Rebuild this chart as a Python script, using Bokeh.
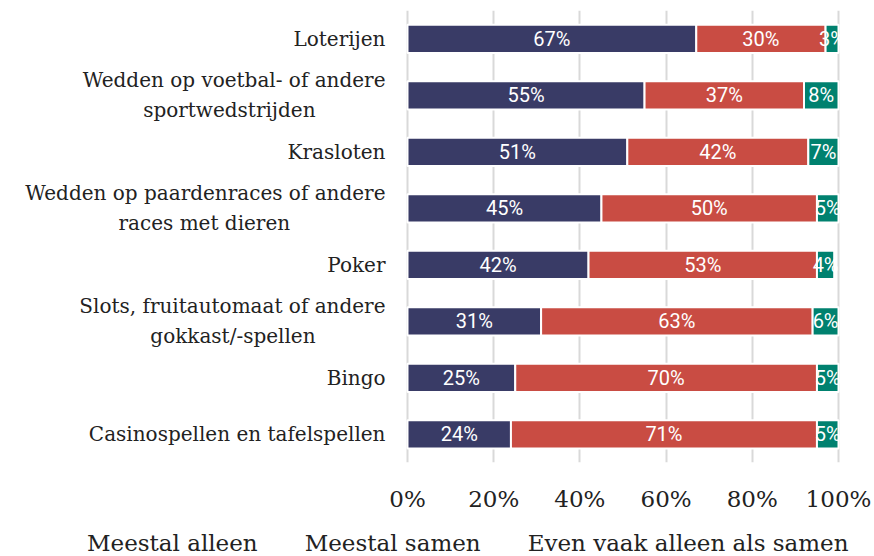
from bokeh.plotting import figure
from bokeh.layouts import column
from bokeh.models import ColumnDataSource, FactorRange, Range1d, Legend, LegendItem, PrintfTickFormatter, FixedTicker
from bokeh.core.properties import value
from bokeh.embed import file_html
from bokeh.resources import INLINE

NB = "\u00a0"
categories = [
    "Loterijen",
    "Wedden op voetbal- of andere\nsportwedstrijden" + NB * 11,
    "Krasloten",
    "Wedden op paardenraces of andere\nraces met dieren" + NB * 15,
    "Poker",
    "Slots, fruitautomaat of andere\ngokkast/-spellen" + NB * 11,
    "Bingo",
    "Casinospellen en tafelspellen",
]
alleen = [67, 55, 51, 45, 42, 31, 25, 24]
samen = [30, 37, 42, 50, 53, 63, 70, 71]
even = [3, 8, 7, 5, 4, 6, 5, 5]
series_names = ["Meestal alleen", "Meestal samen", "Even vaak alleen als samen"]
colors = ["#393b66", "#c94c43", "#00816f"]
x_ticks = [0, 20, 40, 60, 80, 100]

# frame spans the full width; 0% sits at 407px, 100% at 838px
PX_PER_UNIT = 4.31
p = figure(
    frame_width=874, frame_height=452,
    y_range=FactorRange(factors=list(reversed(categories)), range_padding=0),
    x_range=Range1d(-407 / PX_PER_UNIT, 467 / PX_PER_UNIT),
    output_backend="svg", toolbar_location=None,
    min_border_left=0, min_border_right=0, min_border_top=10, min_border_bottom=0,
)
p.outline_line_color = None
p.yaxis.visible = False

# category labels, right-aligned just left of the 0% line
lab_src = ColumnDataSource(dict(y=categories, x=[-22 / PX_PER_UNIT] * len(categories), t=categories))
p.text(x="x", y="y", text="t", source=lab_src, text_align="right", text_baseline="middle",
       text_font=value("DejaVu Serif"), text_font_size="20px", text_color="#222222",
       text_line_height=1.25)

series = [alleen, samen, even]
left = [0] * len(categories)
for name, vals, col in zip(series_names, series, colors):
    right = [l + v for l, v in zip(left, vals)]
    mid = [(l + r) / 2 for l, r in zip(left, right)]
    src = ColumnDataSource(dict(y=categories, left=left, right=right, mid=mid,
                                lab=[f"{v}%" for v in vals]))
    p.hbar(y="y", left="left", right="right", height=0.5, source=src,
           fill_color=col, line_color="white", line_width=2)
    p.text(x="mid", y="y", text="lab", source=src, text_align="center",
           text_baseline="middle", text_color="white", text_font_size="20px",
           text_font=value("Roboto"))
    left = right

p.xaxis.ticker = FixedTicker(ticks=x_ticks)
p.xaxis.formatter = PrintfTickFormatter(format="%d%%")
p.xaxis.axis_line_color = None
p.xaxis.major_tick_line_color = None
p.xaxis.minor_tick_line_color = None
p.xaxis.major_label_text_font = "DejaVu Serif"
p.xaxis.major_label_text_font_size = "23px"
p.xaxis.major_label_text_color = "#222222"
p.xaxis.major_label_standoff = 17

p.ygrid.grid_line_color = None
p.xgrid.ticker = FixedTicker(ticks=x_ticks)
p.xgrid.grid_line_color = "#d9d9d9"
p.xgrid.grid_line_width = 2

# separate strip holding the legend
p2 = figure(
    frame_width=874, frame_height=44,
    x_range=Range1d(0, 1), y_range=Range1d(0, 1),
    x_axis_type=None, y_axis_type=None,
    output_backend="svg", toolbar_location=None,
    min_border_left=0, min_border_right=0, min_border_top=0, min_border_bottom=0,
)
p2.outline_line_color = None
p2.xgrid.visible = False
p2.ygrid.visible = False
items = []
for name, col in zip(series_names, colors):
    r = p2.hbar(y=[], left=[], right=[], height=0.5,
                fill_color=col, line_color="white", line_width=1)
    items.append(LegendItem(label=name, renderers=[r]))

legend = Legend(
    items=items, orientation="horizontal", location=(68, 2),
    label_text_font="DejaVu Serif", label_text_font_size="23px",
    label_text_color="#222222",
    glyph_width=11, glyph_height=11, spacing=28, label_standoff=8,
    border_line_color=None, background_fill_alpha=0, padding=4, margin=0,
)
p2.add_layout(legend)

layout = column(p, p2, spacing=0)
open("out.html", "w").write(file_html(layout, INLINE))
